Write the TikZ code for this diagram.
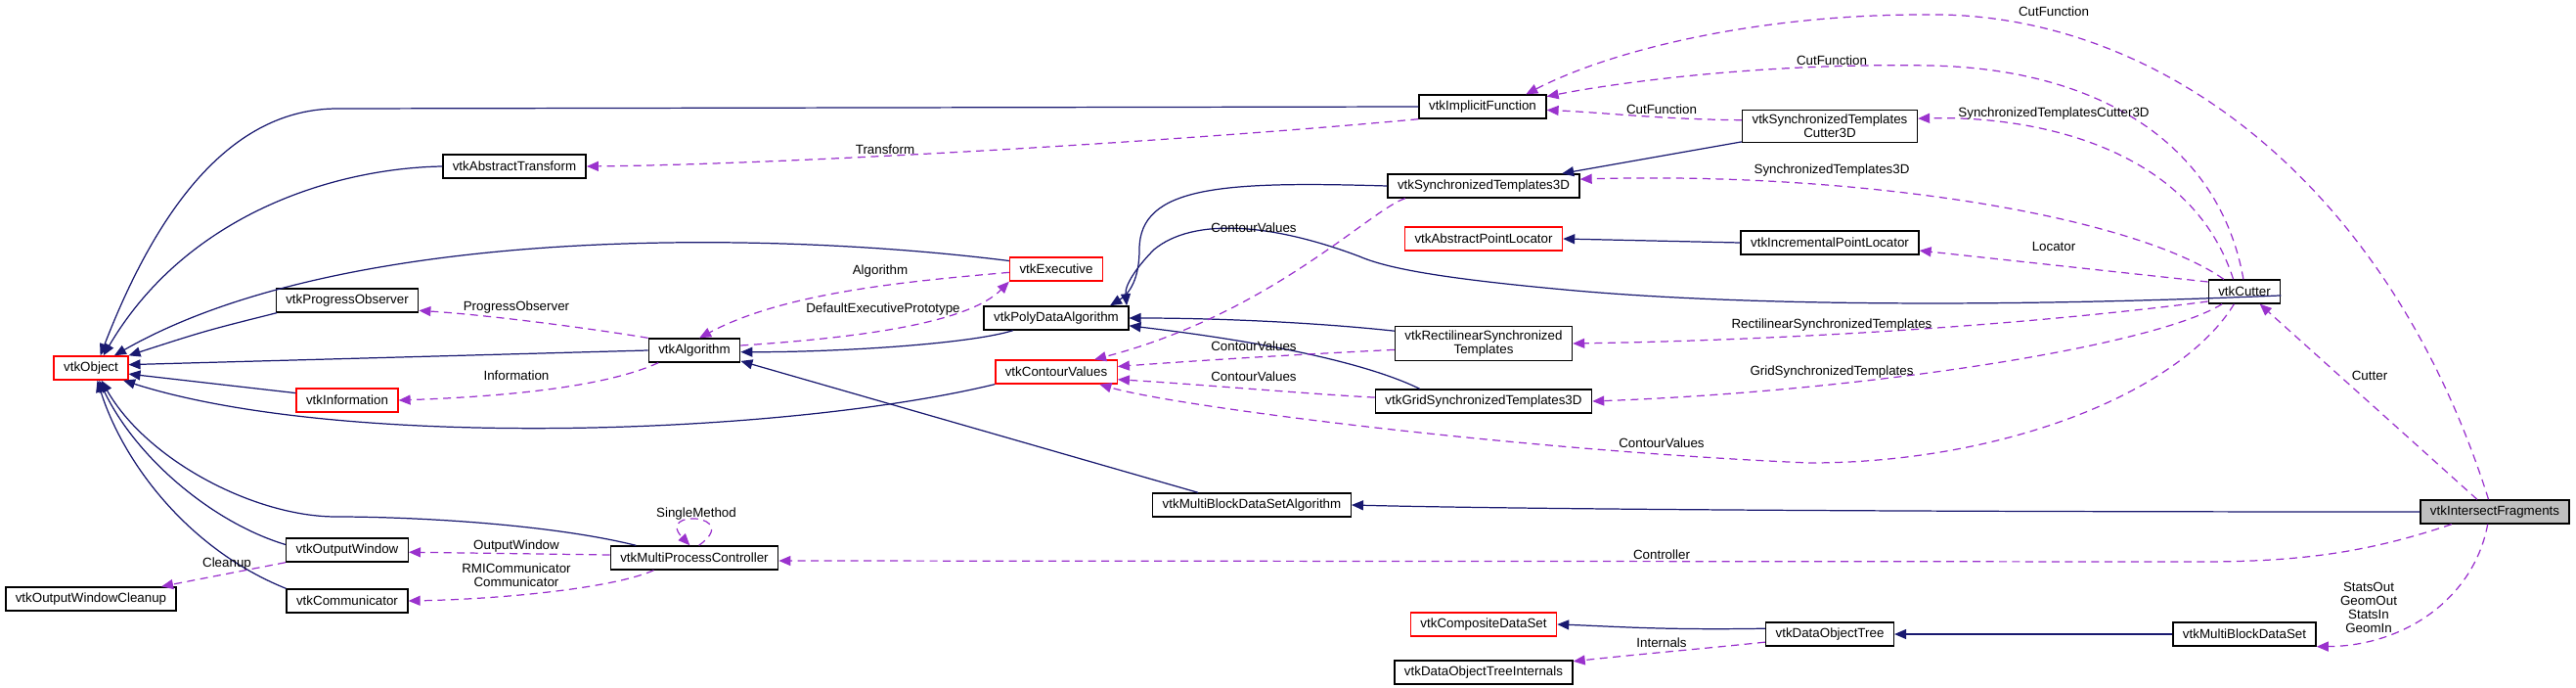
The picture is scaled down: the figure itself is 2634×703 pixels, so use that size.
\documentclass[tikz,border=0pt]{standalone}
\usepackage{fontspec}
\setmainfont{Liberation Sans}
\usepackage{xcolor}
\usetikzlibrary{arrows.meta}
\definecolor{inhnavy}{RGB}{25, 25, 112}
\definecolor{useorchid}{RGB}{154, 50, 205}
\definecolor{focusgray}{RGB}{191, 191, 191}

\begin{document}
\begin{tikzpicture}[
    x=0.02cm, y=-0.02cm,
    font=\fontsize{7.6}{8}\selectfont,
    cls/.style={draw=black, line width=0.8pt, fill=white, align=center,
                minimum height=0.48cm, inner xsep=0.2cm, inner ysep=2.5pt},
    clsred/.style={cls, draw=red},
    inherit/.style={-{Triangle[length=2.4mm, width=2mm]}, inhnavy, line width=0.7pt},
    uses/.style={-{Triangle[length=2.4mm, width=2mm]}, useorchid, line width=0.7pt,
                 dash pattern=on 1.6mm off 1.1mm},
    lbl/.style={align=center, text=black, inner sep=1pt}
  ]
    \useasboundingbox (0,0) rectangle (2634,703);

    \node[clsred] (obj) at (93,376) {vtkObject};
    \node[cls] (cleanup) at (93,612) {vtkOutputWindowCleanup};
    \node[cls] (abstr) at (526,170) {vtkAbstractTransform};
    \node[cls] (progr) at (355,307) {vtkProgressObserver};
    \node[clsred] (info) at (355,409) {vtkInformation};
    \node[cls] (outwin) at (355,562) {vtkOutputWindow};
    \node[cls] (comm) at (355,614) {vtkCommunicator};
    \node[cls] (algo) at (710,358) {vtkAlgorithm};
    \node[cls] (mpc) at (710,570) {vtkMultiProcessController};
    \node[clsred] (exec) at (1080,275) {vtkExecutive};
    \node[cls] (pda) at (1080,325) {vtkPolyDataAlgorithm};
    \node[clsred] (cval) at (1080,380) {vtkContourValues};
    \node[cls] (mbdsa) at (1280,516) {vtkMultiBlockDataSetAlgorithm};
    \node[cls] (impl) at (1516,109) {vtkImplicitFunction};
    \node[cls] (st3d) at (1517,190) {vtkSynchronizedTemplates3D};
    \node[clsred] (apl) at (1517,244) {vtkAbstractPointLocator};
    \node[cls] (rst) at (1517,351) {vtkRectilinearSynchronized\\Templates};
    \node[cls] (gst3d) at (1517,410) {vtkGridSynchronizedTemplates3D};
    \node[clsred] (cds) at (1517,638) {vtkCompositeDataSet};
    \node[cls] (doti) at (1517,687) {vtkDataObjectTreeInternals};
    \node[cls] (stc3d) at (1871,129) {vtkSynchronizedTemplates\\Cutter3D};
    \node[cls] (ipl) at (1871,248) {vtkIncrementalPointLocator};
    \node[cls] (dot) at (1871,648) {vtkDataObjectTree};
    \node[cls] (cutter) at (2295,298) {vtkCutter};
    \node[cls] (mbds) at (2295,648) {vtkMultiBlockDataSet};
    \node[cls, fill=focusgray] (frag) at (2551,523) {vtkIntersectFragments};

    \draw[inherit] (impl.west) -- (345,111) .. controls (235,111) and (160,215) .. (obj.53);
    \draw[inherit] (abstr.west) .. controls (340,172) and (190,220) .. (obj.45);
    \draw[inherit] (exec.170) .. controls (780,235) and (350,230) .. (obj.28);
    \draw[inherit] (progr.190) .. controls (210,338) .. (obj.north east);
    \draw[inherit] (algo.west) -- (obj.5);
    \draw[inherit] (info.172) -- (obj.-9);
    \draw[inherit] (cval.south west) .. controls (800,445) and (350,460) .. (obj.-21);
    \draw[inherit] (outwin.175) .. controls (220,535) and (140,470) .. (obj.-57);
    \draw[inherit] (mpc.168) .. controls (560,535) and (420,528) .. (344,528)
      .. controls (260,528) and (150,470) .. (obj.-50);
    \draw[inherit] (comm.north west) .. controls (190,560) and (125,470) .. (obj.-63);
    \draw[inherit] (pda.196) .. controls (990,352) and (850,360) .. (algo.-2);
    \draw[inherit] (mbdsa.167) -- (algo.-13);
    \draw[inherit] (st3d.west) .. controls (1250,185) and (1165,190) .. (1165,255)
      .. controls (1165,285) and (1155,300) .. (pda.13);
    \draw[inherit] (cutter.-6) .. controls (2000,316) and (1750,310) .. (1600,296)
      .. controls (1480,285) and (1420,275) .. (1390,262)
      .. controls (1300,228) and (1220,222) .. (1180,255)
      .. controls (1165,270) and (1150,290) .. (pda.10);
    \draw[inherit] (rst.172) .. controls (1350,330) and (1250,325) .. (pda.east);
    \draw[inherit] (gst3d.169) .. controls (1400,372) and (1300,350) .. (pda.-6);
    \draw[inherit] (stc3d.190) -- (st3d.9);
    \draw[inherit] (ipl.west) -- (apl.east);
    \draw[inherit] (frag.west) .. controls (1800,523) and (1500,519) .. (mbdsa.east);
    \draw[inherit] (dot.175) .. controls (1700,644) and (1650,640) .. (cds.east);
    \draw[inherit] (mbds.west) -- (dot.east);

    \draw[uses] (impl.south west) .. controls (1200,145) and (800,168) .. (abstr.east)
      node[lbl] at (905,153) {Transform};
    \draw[uses] (algo.north west) .. controls (600,335) and (500,322) .. (progr.-8)
      node[lbl] at (528,314) {ProgressObserver};
    \draw[uses] (algo.199) .. controls (620,395) and (520,405) .. (info.east)
      node[lbl] at (528,384) {Information};
    \draw[uses] (exec.184) .. controls (920,288) and (800,300) .. (algo.68)
      node[lbl] at (900,277) {Algorithm};
    \draw[uses] (algo.6) .. controls (880,345) and (990,330) .. (exec.south west)
      node[lbl] at (903,316) {DefaultExecutivePrototype};
    \draw[uses] (st3d.189) .. controls (1400,215) and (1300,320) .. (cval.18)
      node[lbl] at (1282,233) {ContourValues};
    \draw[uses] (rst.184) .. controls (1330,362) and (1230,368) .. (cval.5)
      node[lbl] at (1282,354) {ContourValues};
    \draw[uses] (gst3d.178) .. controls (1330,402) and (1230,393) .. (cval.-7)
      node[lbl] at (1282,385) {ContourValues};
    \draw[uses] (cutter.230) .. controls (2230,400) and (2050,473) .. (1850,473)
      .. controls (1550,460) and (1200,415) .. (cval.-16)
      node[lbl] at (1699,453) {ContourValues};
    \draw[uses] (stc3d.176) .. controls (1700,122) and (1640,115) .. (impl.-3)
      node[lbl] at (1699,112) {CutFunction};
    \draw[uses] (cutter.95) .. controls (2270,150) and (2150,70) .. (1972,67)
      .. controls (1800,64) and (1650,85) .. (impl.9)
      node[lbl] at (1873,62) {CutFunction};
    \draw[uses] (frag.117) .. controls (2440,180) and (2200,10) .. (1966,15)
      .. controls (1800,15) and (1650,50) .. (impl.16)
      node[lbl] at (2100,12) {CutFunction};
    \draw[uses] (cutter.132) .. controls (2240,150) and (2080,118) .. (stc3d.5)
      node[lbl] at (2100,116) {SynchronizedTemplatesCutter3D};
    \draw[uses] (cutter.149) .. controls (2180,220) and (1900,175) .. (st3d.4)
      node[lbl] at (1873,174) {SynchronizedTemplates3D};
    \draw[uses] (cutter.165) -- (ipl.-5)
      node[lbl] at (2100,252) {Locator};
    \draw[uses] (cutter.195) .. controls (2050,335) and (1800,348) .. (rst.east)
      node[lbl] at (1873,332) {RectilinearSynchronizedTemplates};
    \draw[uses] (cutter.209) .. controls (2200,355) and (1900,400) .. (gst3d.east)
      node[lbl] at (1873,380) {GridSynchronizedTemplates};
    \draw[uses] (frag.145) -- (cutter.-39)
      node[lbl] at (2423,384) {Cutter};
    \draw[uses] (frag.196) .. controls (2420,565) and (2350,574) .. (2250,574) -- (mpc.-2)
      node[lbl] at (1699,567) {Controller};
    \draw[uses] (frag.240) .. controls (2530,610) and (2460,660) .. (mbds.south east)
      node[lbl] at (2422,621) {StatsOut\\GeomOut\\StatsIn\\GeomIn};
    \draw[uses] (dot.187) .. controls (1750,662) and (1680,668) .. (doti.7)
      node[lbl] at (1699,657) {Internals};
    \draw[uses] (mpc.178) -- (outwin.-2)
      node[lbl] at (528,558) {OutputWindow};
    \draw[uses] (mpc.197) .. controls (630,600) and (520,612) .. (comm.east)
      node[lbl] at (528,588) {RMICommunicator\\Communicator};
    \draw[uses] (mpc.70) .. controls (760,525) and (670,520) .. (mpc.110)
      node[lbl] at (712,525) {SingleMethod};
    \draw[uses] (outwin.south west) -- (cleanup.10)
      node[lbl] at (232,576) {Cleanup};
  \end{tikzpicture}
\end{document}
